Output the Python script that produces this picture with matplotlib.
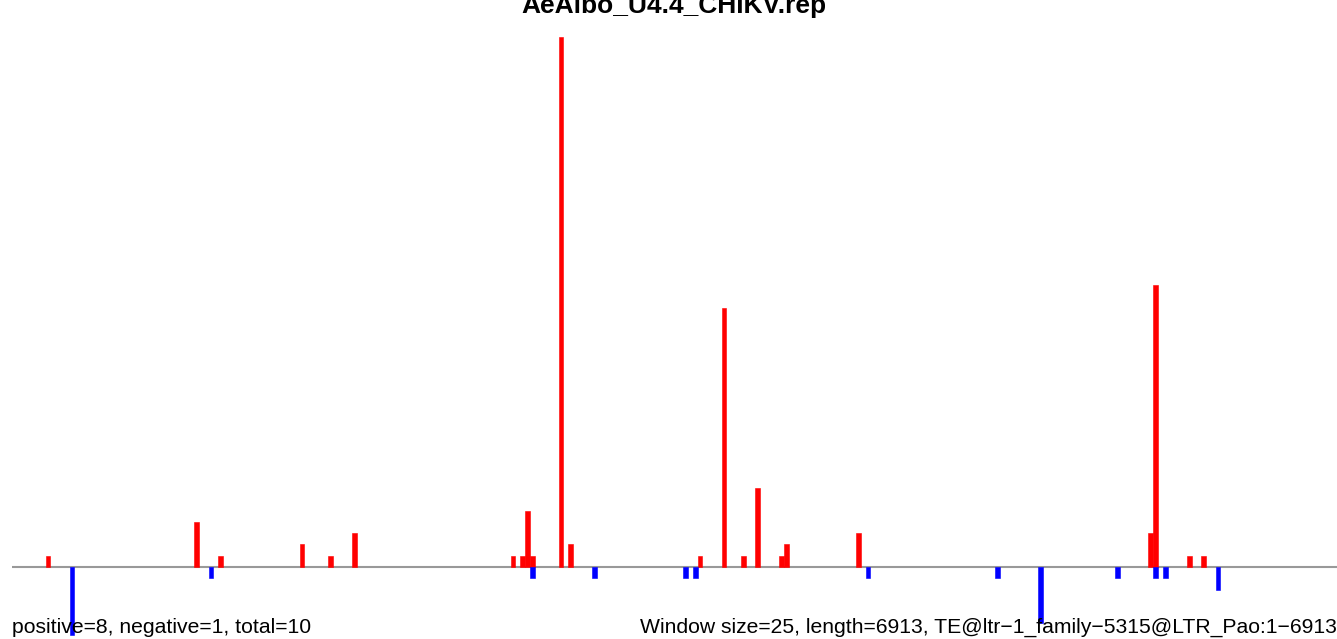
import numpy as np
import matplotlib.pyplot as plt

plt.rcParams['font.family'] = ['Liberation Sans', 'DejaVu Sans']

title = 'AeAlbo_U4.4_CHIKV.rep'
n_windows = 277  # 6913 / 25

# window index -> count
pos_idx = [7, 38, 43, 60, 66, 71, 104, 106, 107, 108, 114, 116, 143, 148,
           152, 155, 160, 161, 176, 237, 238, 245, 248]
pos_val = [1, 4, 1, 2, 1, 3, 1, 1, 5, 1, 47, 2, 1, 23,
           1, 7, 1, 2, 3, 3, 25, 1, 1]
neg_idx = [12, 41, 108, 121, 140, 142, 178, 205, 214, 230, 238, 240, 251]
neg_val = [-6, -1, -1, -1, -1, -1, -1, -1, -5, -1, -1, -1, -2]

left_text = 'positive=8, negative=1, total=10'
right_text = 'Window size=25, length=6913, TE@ltr\u22121_family\u22125315@LTR_Pao:1\u22126913'

W, H = 1337, 639
fig = plt.figure(figsize=(W / 100, H / 100), dpi=100)

# plot region in pixels (R-style, partly outside the saved image)
px_left, px_w = 12, n_windows * 4.795
ymin, ymax = -8.12, 49.12
unit = 11.28
px_top = 567 - ymax * unit
px_bot = 567 - ymin * unit
ax = fig.add_axes([px_left / W, (H - px_bot) / H, px_w / W, (px_bot - px_top) / H])

ax.bar(pos_idx, pos_val, width=1, align='edge', color='#ff0000',
       edgecolor='#ff0000', linewidth=0.4)
ax.bar(neg_idx, neg_val, width=1, align='edge', color='#0000ff',
       edgecolor='#0000ff', linewidth=0.4)
ax.axhline(0, color='#999999', lw=1.5, zorder=0)

ax.set_xlim(0, n_windows)
ax.set_ylim(ymin, ymax)
ax.axis('off')

fig.text(674 / W, 1 - 13 / H, title, ha='center', va='baseline',
         fontsize=19, fontweight='bold')
fig.text(12 / W, 1 - 633 / H, left_text, ha='left', va='baseline', fontsize=15.2)
fig.text(640 / W, 1 - 633 / H, right_text, ha='left', va='baseline', fontsize=15.2)

fig.savefig('out.png', dpi=100)
